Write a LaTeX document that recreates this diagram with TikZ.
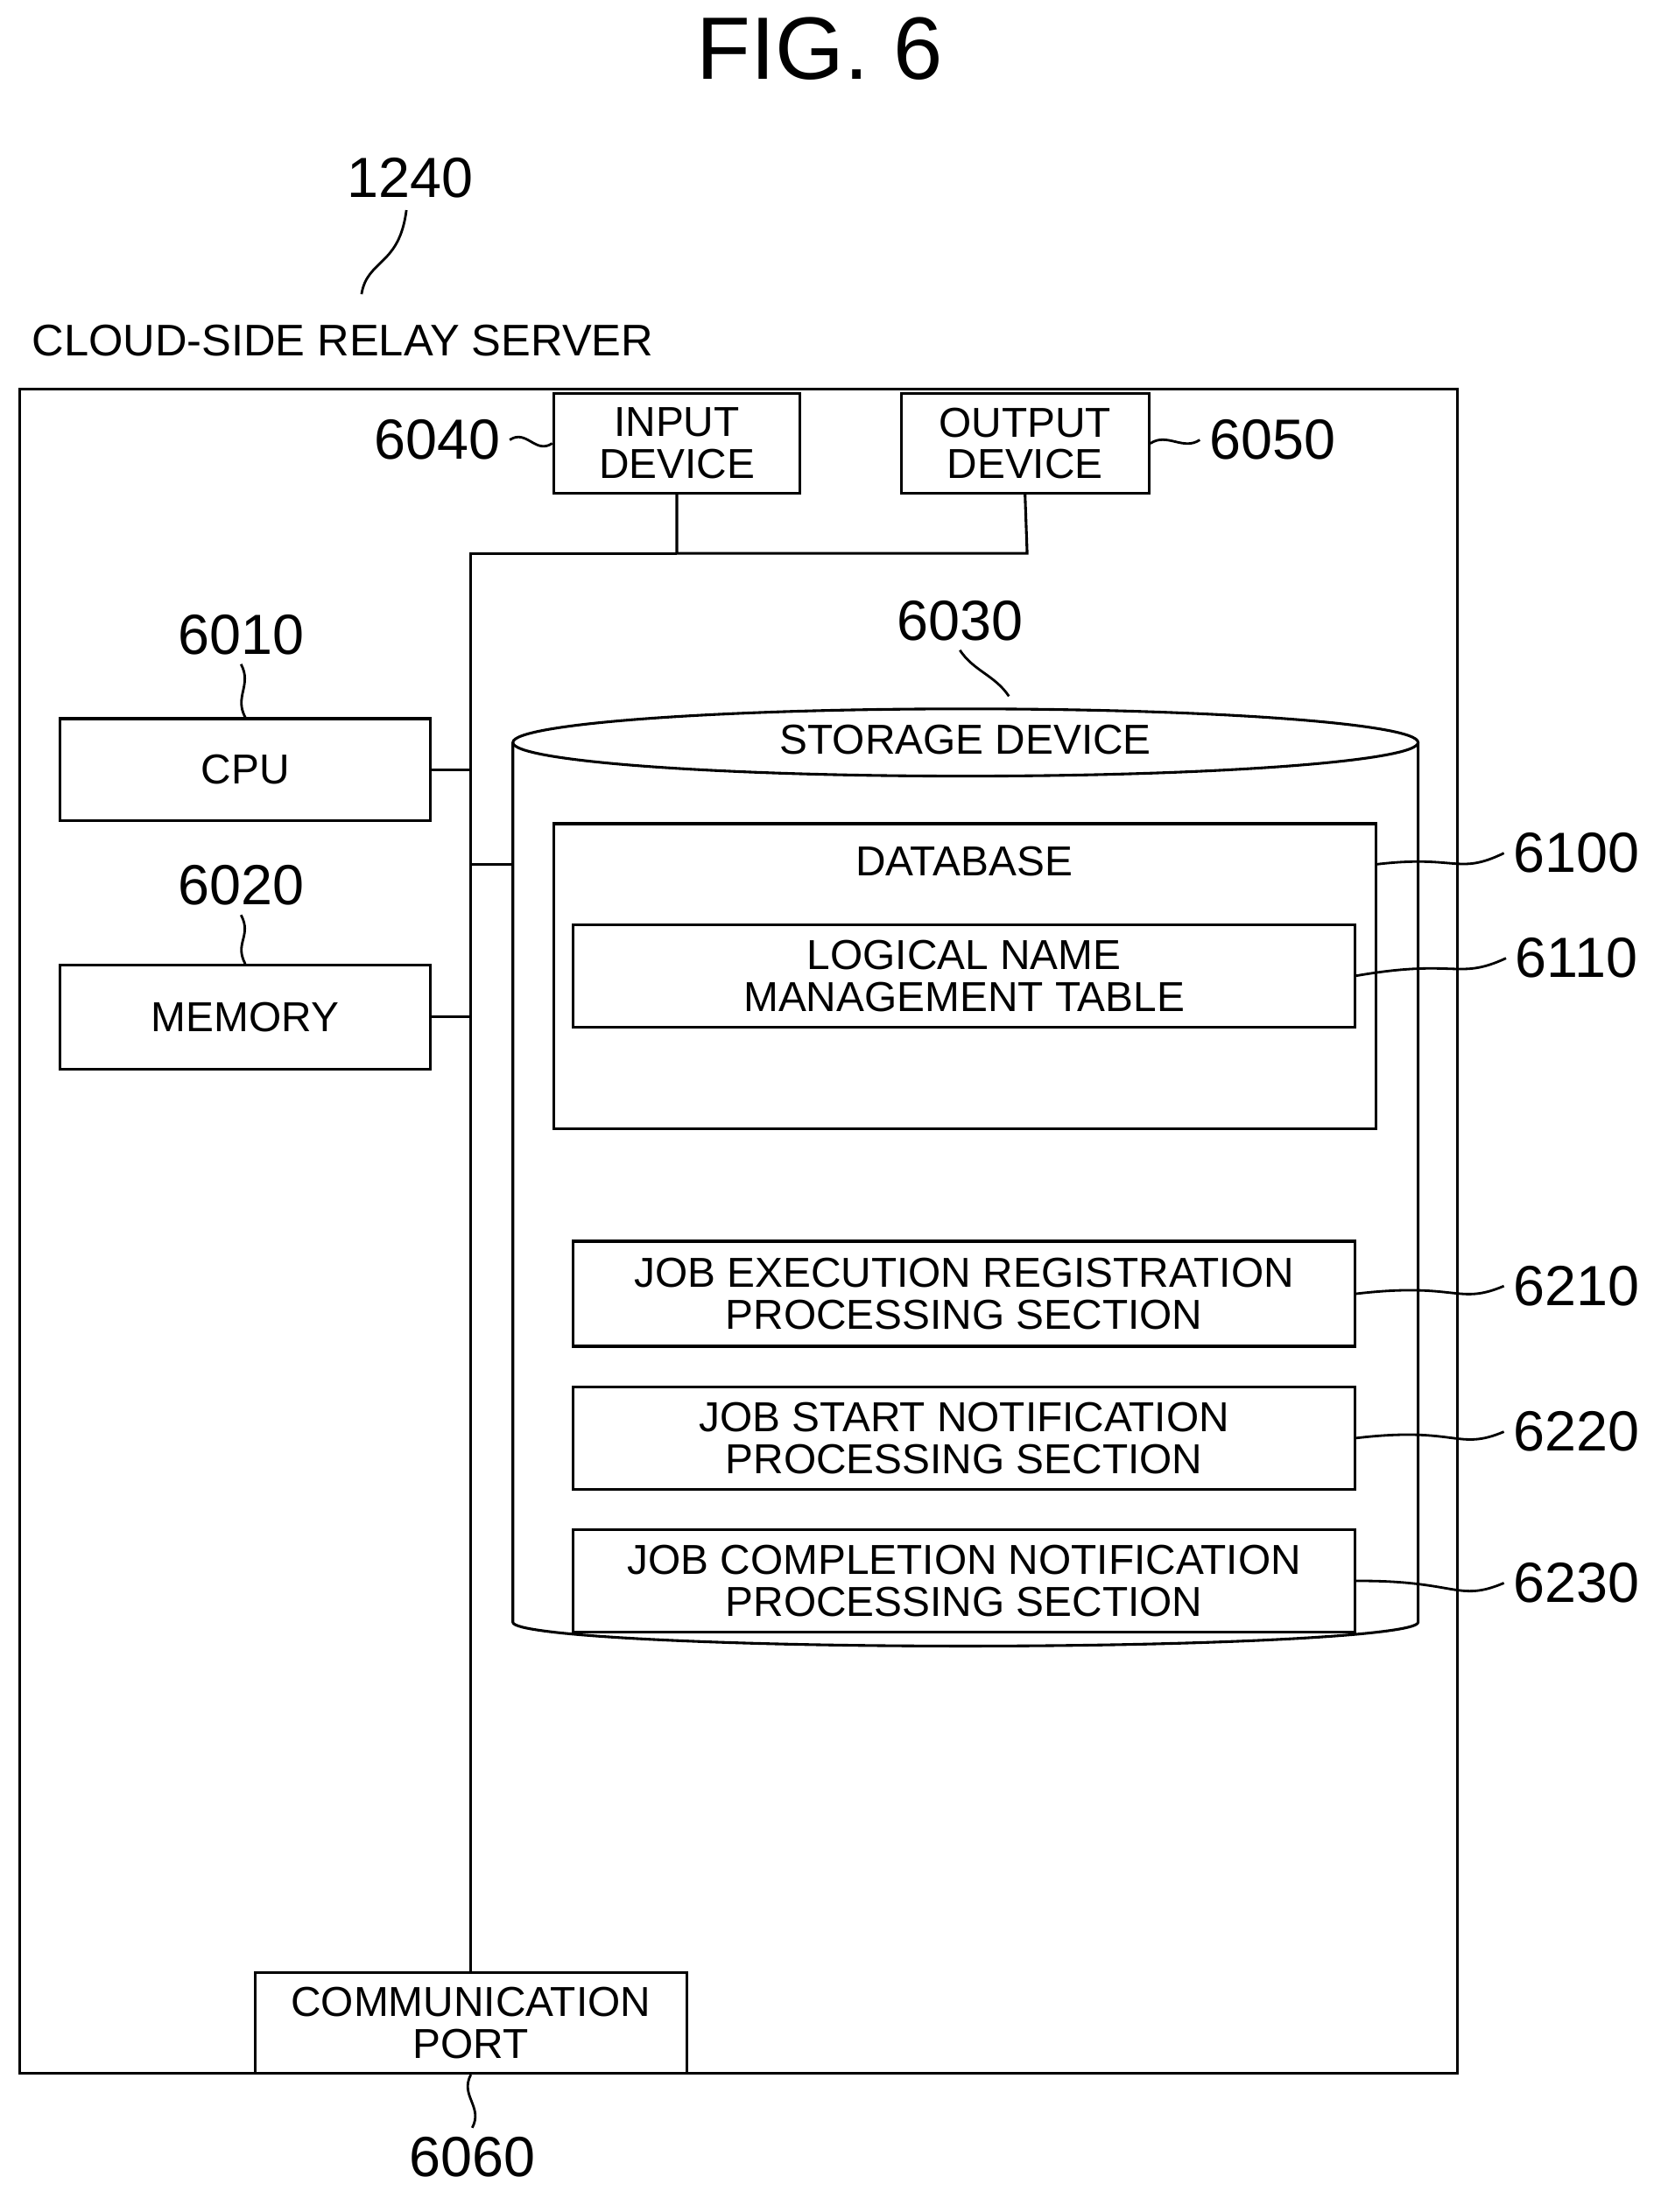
\documentclass[tikz,border=0pt]{standalone}
\usepackage{fontspec}
\setmainfont{Liberation Sans}
\usetikzlibrary{shapes.geometric}
\begin{document}
\begin{tikzpicture}[x=0.02cm,y=-0.02cm,line width=1.1pt]
	\tikzset{box/.style={draw,inner sep=0pt,align=center,font=\fontsize{17}{17}\selectfont},
		num/.style={font=\fontsize{23}{23}\selectfont},
		lead/.style={line width=1pt}}
	\useasboundingbox (0,0) rectangle (1185,1579);
	\node[font=\fontsize{36}{36}\selectfont] (fig) at (585,35) {FIG. 6};
	\node[num] (n1240) at (293,127) {1240};
	\draw[lead] (258,210) .. controls (262,185) and (285,190) .. (290,150);
	\node[anchor=west,font=\fontsize{18}{18}\selectfont] (title) at (16,243) {CLOUD-SIDE RELAY SERVER};
	% server frame
	\draw (14,278) rectangle (1040,1480);
	\node[box,minimum width=3.52cm,minimum height=1.42cm] (in) at (483,316.5) {INPUT\\DEVICE};
	\node[box,minimum width=3.54cm,minimum height=1.42cm] (out) at (731.5,316.5) {OUTPUT\\DEVICE};
	\node[num] (n6040) at (312,314) {6040};
	\node[num] (n6050) at (908,314) {6050};
	\draw[lead] (n6040.east) .. controls +(12,-8) and +(-12,8) .. (in.west);
	\draw[lead] (out.east) .. controls +(12,-8) and +(-12,8) .. (n6050.west);
	\node[box,minimum width=5.28cm,minimum height=1.46cm] (cpu) at (175,549.5) {CPU};
	\node[box,minimum width=5.28cm,minimum height=1.48cm] (mem) at (175,726) {MEMORY};
	\node[num] (n6010) at (172,453) {6010};
	\node[num] (n6020) at (172,632) {6020};
	\draw[lead] (n6010.south) .. controls +(8,15) and +(-8,-15) .. (cpu.north);
	\draw[lead] (n6020.south) .. controls +(8,15) and +(-8,-15) .. (mem.north);
	\node[box,minimum width=6.16cm,minimum height=1.44cm] (port) at (336,1444) {COMMUNICATION\\PORT};
	\node[num] (n6060) at (337,1540) {6060};
	\draw[lead] (port.south) .. controls +(-8,15) and +(8,-15) .. (n6060.north);
	% bus
	\draw (in.south) -- (483,395) -- (733,395) -- (out.south);
	\draw (483,395) -- (336,395) -- (port.north -| 336,0);
	\draw (cpu.east) -- (336,549.5);
	\draw (mem.east) -- (336,726);
	\draw (336,617) -- (366,617);
	% storage device
	\draw (366,530) -- (366,1158) arc (180:0:323 and 17) -- (1012,530);
	\draw (689,530) ellipse (323 and 24);
	\node[font=\fontsize{17}{17}\selectfont] (stor) at (689,528) {STORAGE DEVICE};
	\node[num] (n6030) at (685,443) {6030};
	\draw[lead] (n6030.south) .. controls +(10,15) and +(-10,-15) .. (720,497);
	\draw (395,588) rectangle (982,806);
	\node[font=\fontsize{17}{17}\selectfont] (db) at (688,615) {DATABASE};
	\coordinate (dbr) at (982,617);
	\node[box,minimum width=11.16cm,minimum height=1.46cm,fill=white] (lnt) at (688,696.5) {LOGICAL NAME\\MANAGEMENT TABLE};
	\node[box,minimum width=11.16cm,minimum height=1.5cm] (jer) at (688,923.5) {JOB EXECUTION REGISTRATION\\PROCESSING SECTION};
	\node[box,minimum width=11.16cm,minimum height=1.46cm] (jsn) at (688,1026.5) {JOB START NOTIFICATION\\PROCESSING SECTION};
	\node[box,minimum width=11.16cm,minimum height=1.46cm,fill=white] (jcn) at (688,1128.5) {JOB COMPLETION NOTIFICATION\\PROCESSING SECTION};
	\node[num] (n6100) at (1125,609) {6100};
	\node[num] (n6110) at (1125,684) {6110};
	\node[num] (n6210) at (1125,918) {6210};
	\node[num] (n6220) at (1125,1022) {6220};
	\node[num] (n6230) at (1125,1130) {6230};
	\draw[lead] (dbr) .. controls (1040,610) and (1040,625) .. (n6100.west);
	\draw[lead] (lnt.east) .. controls (1040,684) and (1040,700) .. (n6110.west);
	\draw[lead] (jer.east) .. controls (1040,915) and (1040,932) .. (n6210.west);
	\draw[lead] (jsn.east) .. controls (1040,1018) and (1040,1036) .. (n6220.west);
	\draw[lead] (jcn.east) .. controls (1040,1128) and (1040,1144) .. (n6230.west);
\end{tikzpicture}
\end{document}
